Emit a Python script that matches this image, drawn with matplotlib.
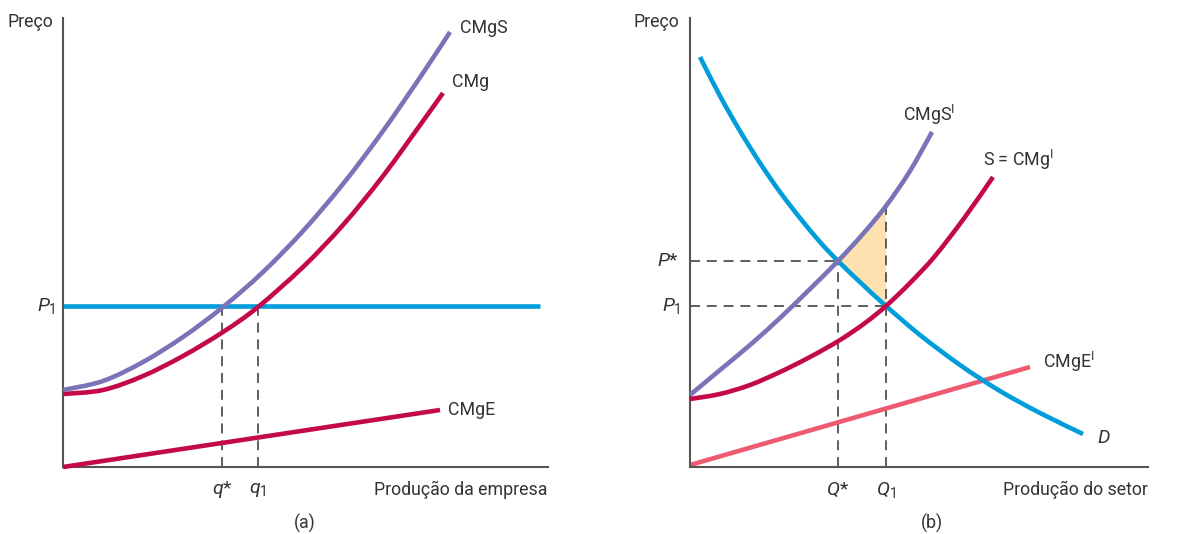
import matplotlib
matplotlib.use("Agg")
import matplotlib.pyplot as plt
from matplotlib.path import Path
from matplotlib.patches import PathPatch

FONT = ["Roboto", "DejaVu Sans"]
plt.rcParams.update({
    "font.family": FONT,
    "font.size": 12.8,
    "mathtext.fontset": "custom",
    "mathtext.rm": FONT[0],
    "mathtext.it": FONT[0] + ":italic",
    "text.color": "#333333",
})
MATH = 14  # italic symbol labels

BLUE = "#009ddb"
PURPLE = "#7a73b7"
CRIMSON = "#c3084b"
PINK = "#ee5a72"
SHADE = "#fde2b0"
AXIS = "#555555"

# ---- panel (a): firm ----
cmgs_x = [0, 40, 80, 120, 160, 200, 240, 280, 320, 360, 387]
cmgs_y = [77, 86, 105, 130, 160, 195, 236, 283, 336, 394, 435]
cmg_x = [0, 40, 80, 120, 160, 195, 240, 280, 320, 360, 380]
cmg_y = [73, 77, 91, 111, 135, 160, 200, 242, 291, 346, 374]
cmge_x = [0, 377]
cmge_y = [0, 57]
p1_a = 161
p1_a_xmax = 477
q_star, q_1 = 159, 195

# ---- panel (b): industry ----
d_x = [10, 30, 50, 70, 90, 110, 130, 148, 172, 196, 230, 270, 310, 350, 393]
d_y = [410, 371, 336, 304, 275, 249, 225, 206, 183, 161, 132, 102, 76, 54, 33]
cmgsi_x = [0, 30, 60, 90, 120, 148, 172, 196, 220, 242]
cmgsi_y = [72, 97, 122, 149, 178, 206, 232, 261, 296, 335]
s_x = [0, 30, 60, 90, 120, 150, 175, 196, 220, 245, 275, 303]
s_y = [68, 73, 82, 95, 110, 127, 144, 161, 184, 211, 250, 290]
cmgei_x = [0, 340]
cmgei_y = [2, 100]
Q_star, Q_1 = 148, 196
P_star, P_1 = 206, 161

W, H = 1178, 534
fig = plt.figure(figsize=(W / 100, H / 100), dpi=100)


def make_axes(x0_px, xlen):
    ax = fig.add_axes([x0_px / W, (H - 467) / H, xlen / W, 449 / H])
    ax.set_xlim(0, xlen)
    ax.set_ylim(0, 449)
    for s in ("top", "right"):
        ax.spines[s].set_visible(False)
    for s in ("left", "bottom"):
        ax.spines[s].set_color(AXIS)
        ax.spines[s].set_linewidth(1.5)
    ax.set_xticks([])
    ax.set_yticks([])
    ax.patch.set_alpha(0)
    return ax


def dashed(ax, xs, ys):
    ax.plot(xs, ys, color="#333333", lw=1.1, dashes=(6.5, 4.5), zorder=1,
            clip_on=False)


def smooth(ax, xs, ys, color, z):
    # Catmull-Rom through the read points, drawn as cubic Bezier segments
    pts = list(zip(xs, ys))
    verts, codes = [pts[0]], [Path.MOVETO]
    for i in range(len(pts) - 1):
        p0 = pts[max(i - 1, 0)]
        p1, p2 = pts[i], pts[i + 1]
        p3 = pts[min(i + 2, len(pts) - 1)]
        c1 = (p1[0] + (p2[0] - p0[0]) / 6, p1[1] + (p2[1] - p0[1]) / 6)
        c2 = (p2[0] - (p3[0] - p1[0]) / 6, p2[1] - (p3[1] - p1[1]) / 6)
        verts += [c1, c2, p2]
        codes += [Path.CURVE4] * 3
    ax.add_patch(PathPatch(Path(verts, codes), fill=False, ec=color, lw=3.3,
                           capstyle="butt", zorder=z, clip_on=False))


curve = dict(lw=3.3, solid_capstyle="butt", clip_on=False)

# ---------------- (a) ----------------
ax1 = make_axes(63, 485)
dashed(ax1, [q_star, q_star], [0, p1_a])
dashed(ax1, [q_1, q_1], [0, p1_a])
ax1.plot([0, p1_a_xmax], [p1_a, p1_a], color=BLUE, zorder=2, **curve)
ax1.plot(cmge_x, cmge_y, color=CRIMSON, zorder=3, **curve)
smooth(ax1, cmg_x, cmg_y, CRIMSON, 3)
smooth(ax1, cmgs_x, cmgs_y, PURPLE, 4)

ax1.text(397, 439, "CMgS", ha="left", va="center")
ax1.text(389, 385, "CMg", ha="left", va="center")
ax1.text(385, 57, "CMgE", ha="left", va="center")
ax1.text(-10, 445, "Preço", ha="right", va="center")
ax1.text(-7, p1_a, r"$P_{\mathrm{1}}$", ha="right", va="center", fontsize=MATH)
ax1.text(q_star, -23, r"$q$*", ha="center", va="center", fontsize=MATH)
ax1.text(q_1, -23, r"$q_{\mathrm{1}}$", ha="center", va="center", fontsize=MATH)
ax1.text(484, -23, "Produção da empresa", ha="right", va="center")
ax1.text(242, -56, "(a)", ha="center", va="center")

# ---------------- (b) ----------------
ax2 = make_axes(690, 458)
tri_x = [x for x in cmgsi_x if Q_star <= x <= Q_1]
tri_y = [y for x, y in zip(cmgsi_x, cmgsi_y) if Q_star <= x <= Q_1]
back = [(x, y) for x, y in zip(d_x, d_y) if Q_star <= x <= Q_1][::-1]
ax2.fill(tri_x + [p[0] for p in back], tri_y + [p[1] for p in back],
         color=SHADE, lw=0, zorder=0)

dashed(ax2, [0, Q_star], [P_star, P_star])
dashed(ax2, [0, Q_1], [P_1, P_1])
dashed(ax2, [Q_star, Q_star], [0, P_star])
dashed(ax2, [Q_1, Q_1], [0, cmgsi_y[cmgsi_x.index(Q_1)]])

ax2.plot(cmgei_x, cmgei_y, color=PINK, zorder=2, **curve)
smooth(ax2, d_x, d_y, BLUE, 3)
smooth(ax2, s_x, s_y, CRIMSON, 4)
smooth(ax2, cmgsi_x, cmgsi_y, PURPLE, 5)

ax2.text(213, 352, r"CMgS$^{\mathrm{I}}$", ha="left", va="center")
ax2.text(293, 307, r"S = CMg$^{\mathrm{I}}$", ha="left", va="center")
ax2.text(353, 105, r"CMgE$^{\mathrm{I}}$", ha="left", va="center")
ax2.text(407, 29, r"$D$", ha="left", va="center", fontsize=MATH)
ax2.text(-11, 445, "Preço", ha="right", va="center")
ax2.text(-11, P_star, r"$P$*", ha="right", va="center", fontsize=MATH)
ax2.text(-9, P_1, r"$P_{\mathrm{1}}$", ha="right", va="center", fontsize=MATH)
ax2.text(Q_star, -23, r"$Q$*", ha="center", va="center", fontsize=MATH)
ax2.text(Q_1, -23, r"$Q_{\mathrm{1}}$", ha="center", va="center", fontsize=MATH)
ax2.text(458, -23, "Produção do setor", ha="right", va="center")
ax2.text(242, -56, "(b)", ha="center", va="center")

fig.savefig("out.png", dpi=100, facecolor="white")
